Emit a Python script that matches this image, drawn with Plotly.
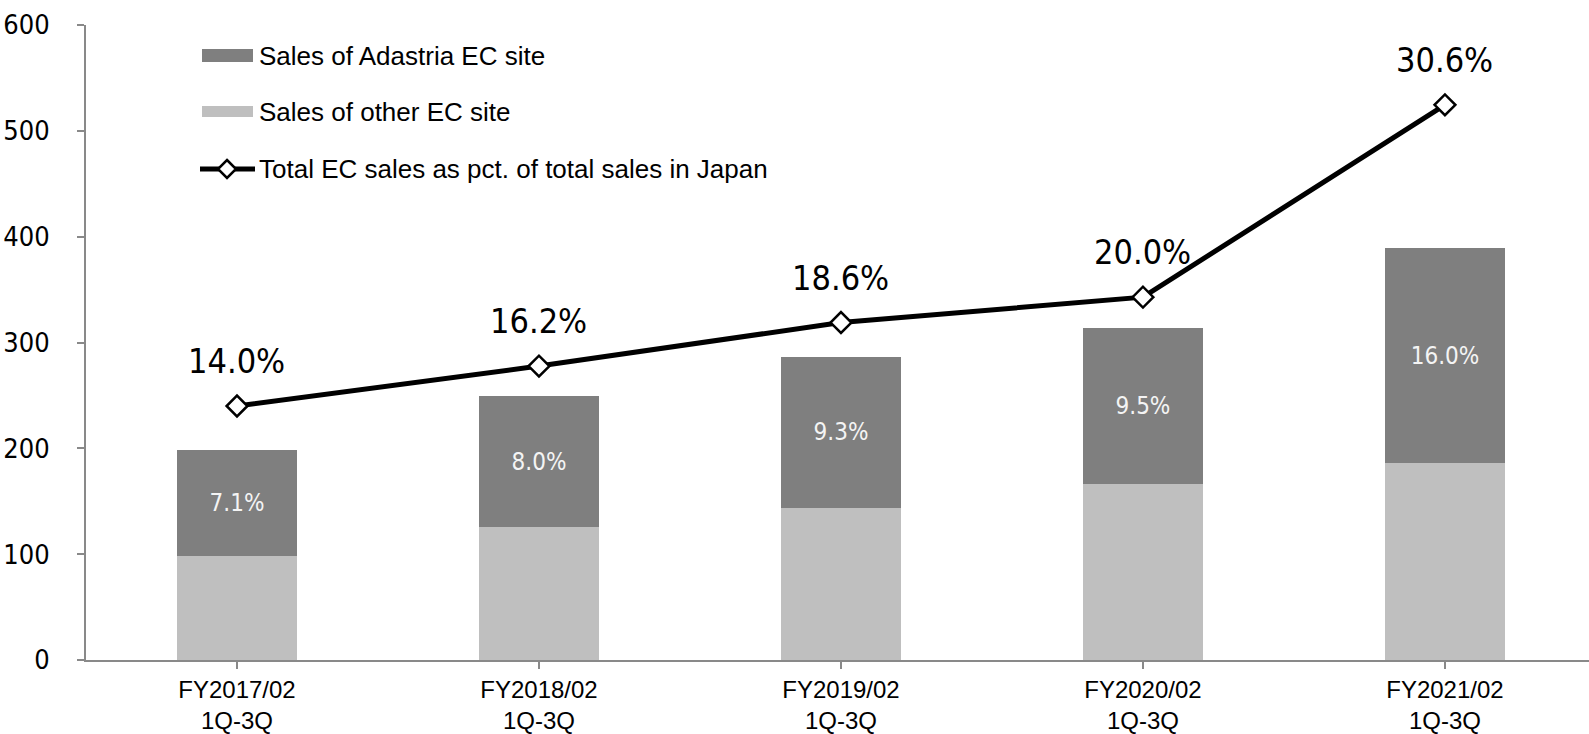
import plotly.graph_objects as go

categories = ["FY2017/02<br>1Q-3Q", "FY2018/02<br>1Q-3Q", "FY2019/02<br>1Q-3Q",
              "FY2020/02<br>1Q-3Q", "FY2021/02<br>1Q-3Q"]
other_ec = [98, 126, 144, 166, 186]
adastria_ec = [100, 123, 142, 148, 203]
adastria_pct = [7.1, 8.0, 9.3, 9.5, 16.0]
total_pct = [14.0, 16.2, 18.6, 20.0, 30.6]

series_names = ["Sales of Adastria EC site", "Sales of other EC site",
                "Total EC sales as pct. of total sales in Japan"]

DARK = "#7f7f7f"
LIGHT = "#bfbfbf"
AXIS = "#898989"
COND = "DejaVu Sans Condensed, Liberation Sans Narrow, Arial Narrow, sans-serif"
REG = "Liberation Sans, Arial, sans-serif"

W, H = 1589, 734
L, R, T, B = 86, 0, 25, 74
pw, ph = W - L - R, H - T - B

def px(xp):
    return (xp - L) / pw

def py(yp):
    return (H - B - yp) / ph

fig = go.Figure()
fig.add_trace(go.Bar(x=list(range(len(categories))), y=other_ec, name=series_names[1],
                     marker=dict(color=LIGHT, line=dict(width=0)), width=0.4,
                     hoverinfo="y"))
fig.add_trace(go.Bar(x=list(range(len(categories))), y=adastria_ec, name=series_names[0],
                     marker=dict(color=DARK, line=dict(width=0)), width=0.4,
                     text=[f"{v:.1f}%" for v in adastria_pct], textposition="inside",
                     insidetextanchor="middle", textangle=0,
                     textfont=dict(family=COND, size=24, color="#f4f4f4"),
                     hoverinfo="y"))
fig.add_trace(go.Scatter(x=list(range(len(categories))), y=total_pct, name=series_names[2],
                         yaxis="y2", mode="lines+markers",
                         line=dict(color="black", width=5),
                         marker=dict(symbol="diamond", size=16, color="white",
                                     line=dict(color="black", width=2.5))))

for i, v in enumerate(total_pct):
    fig.add_annotation(x=i, y=v, xref="x", yref="y2", text=f"{v:.1f}%",
                       showarrow=False, yshift=45,
                       font=dict(family=COND, size=34, color="black"))

# custom legend
shapes = []
rows = [55.5, 111.5, 169]
shapes.append(dict(type="rect", xref="paper", yref="paper", x0=px(202), x1=px(253),
                   y0=py(62), y1=py(49), fillcolor=DARK, line=dict(width=0)))
shapes.append(dict(type="rect", xref="paper", yref="paper", x0=px(202), x1=px(253),
                   y0=py(117), y1=py(106), fillcolor=LIGHT, line=dict(width=0)))
shapes.append(dict(type="line", xref="paper", yref="paper", x0=px(200), x1=px(255),
                   y0=py(169), y1=py(169), line=dict(color="black", width=5)))
cx, cy, d = 227, 169, 9
path = (f"M {px(cx)} {py(cy - d)} L {px(cx + d)} {py(cy)} L {px(cx)} {py(cy + d)} "
        f"L {px(cx - d)} {py(cy)} Z")
shapes.append(dict(type="path", xref="paper", yref="paper", path=path,
                   fillcolor="white", line=dict(color="black", width=2.5)))
for name, ry in zip(series_names, rows):
    fig.add_annotation(x=px(257), y=py(ry), xref="paper", yref="paper", text=name,
                       showarrow=False, xanchor="left", yanchor="middle",
                       font=dict(family=REG, size=26, color="black"))

fig.update_layout(
    width=W, height=H,
    margin=dict(l=L, r=R, t=T, b=B),
    paper_bgcolor="white", plot_bgcolor="white",
    barmode="stack", bargap=0.6,
    showlegend=False,
    shapes=shapes,
    xaxis=dict(range=[-0.5, 4.477], tickmode="array", automargin=False,
               tickvals=list(range(len(categories))), ticktext=categories,
               showline=True, linecolor=AXIS, linewidth=2,
               ticks="outside", tickson="boundaries", ticklen=7, tickwidth=2,
               tickcolor=AXIS, showgrid=False, zeroline=False,
               tickfont=dict(family=REG, size=24, color="black")),
    yaxis=dict(range=[0, 600], dtick=100, showline=True, linecolor=AXIS, linewidth=2,
               ticks="outside", ticklen=7, tickwidth=2, tickcolor=AXIS, automargin=False,
               showgrid=False, zeroline=False, ticklabelstandoff=22,
               tickfont=dict(family=COND, size=27, color="black")),
    yaxis2=dict(range=[0, 35], overlaying="y", side="right", visible=False,
                showgrid=False, zeroline=False, automargin=False),
)

fig.write_html("out.html", config={"displayModeBar": False},
               post_script="document.body.style.margin='0px';document.body.style.padding='0px';")
